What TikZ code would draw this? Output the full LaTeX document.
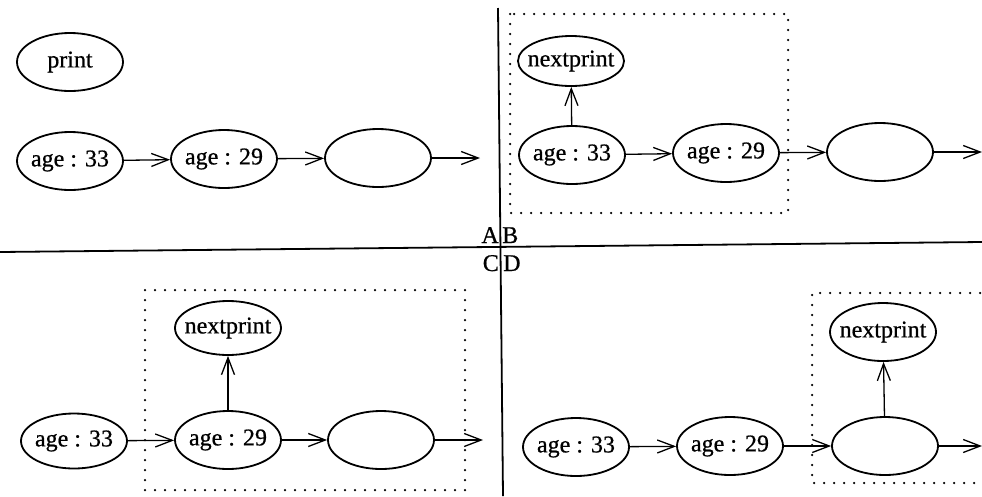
\documentclass[tikz,border=0pt]{standalone}
\usepackage{fontspec}
\setmainfont{Liberation Serif}
\newfontfamily\diagfont[FakeBold=0.7]{Liberation Serif}
\usetikzlibrary{shapes.geometric,arrows.meta}
\begin{document}
\begin{tikzpicture}[x=1pt,y=-1pt,
  obj/.style={ellipse,draw,line width=1.8pt,minimum width=106pt,minimum height=58pt,inner xsep=-20pt,inner ysep=0pt,font=\diagfont\fontsize{24}{28}\selectfont},
  link/.style={line width=1.3pt,-{Straight Barb[length=17pt,width=13pt,line width=1.3pt]}},
  grp/.style={line width=2.5pt,line cap=round,dash pattern=on 0pt off 10pt},
  divider/.style={line width=1.8pt},
  lbl/.style={inner sep=0pt,font=\diagfont\fontsize{24}{28}\selectfont}]
\useasboundingbox (0,0) rectangle (982,496);
\fill[white] (0,0) rectangle (982,496);
% dividers
\coordinate (hl) at (0,252); \coordinate (hr) at (982,242);
\coordinate (vt) at (498,8); \coordinate (vb) at (503,496);
\draw[divider] (hl) -- (hr);
\draw[divider] (vt) -- (vb);
\node[lbl,anchor=base east] (lA) at (499,243) {A};
\node[lbl,anchor=base west] (lB) at (502,243) {B};
\node[lbl,anchor=base east] (lC) at (499,271) {C};
\node[lbl,anchor=base west] (lD) at (503,271) {D};
% Panel A
\node[obj] (pA) at (70,62) {print};
\node[obj] (a33A) at (70,161) {age : 33};
\node[obj] (a29A) at (224,159) {age : 29};
\node[obj] (eA) at (378,158) {};
\coordinate (endA) at (480,158);
\draw[link] (a33A) -- (a29A);
\draw[link] (a29A) -- (eA);
\draw[link] (eA) -- (endA);
% Panel B
\draw[grp] (510,14) rectangle (788,213);
\node[obj,minimum height=50pt] (npB) at (571,61) {nextprint};
\node[obj] (a33B) at (572,155) {age : 33};
\node[obj] (a29B) at (726,153) {age : 29};
\node[obj] (eB) at (880,152) {};
\coordinate (endB) at (982,152);
\draw[link] (a33B) -- (npB);
\draw[link] (a33B) -- (a29B);
\draw[link] (a29B) -- (eB);
\draw[link] (eB) -- (endB);
% Panel C
\draw[grp] (145,290) rectangle (465,490);
\node[obj,minimum height=54pt] (npC) at (228,328) {nextprint};
\node[obj,minimum height=55pt] (a33C) at (74,441) {age : 33};
\node[obj] (a29C) at (228,440) {age : 29};
\node[obj] (eC) at (381,440) {};
\coordinate (endC) at (483,440);
\draw[link] (a29C) -- (npC);
\draw[link] (a33C) -- (a29C);
\draw[link] (a29C) -- (eC);
\draw[link] (eC) -- (endC);
% Panel D
\draw[grp] (990,293) -- (812,293) -- (812,483) -- (990,483);
\node[obj] (npD) at (883,332) {nextprint};
\node[obj] (a33D) at (576,447) {age : 33};
\node[obj] (a29D) at (730,446) {age : 29};
\node[obj] (eD) at (885,446) {};
\coordinate (endD) at (982,446);
\draw[link] (eD) -- (npD);
\draw[link] (a33D) -- (a29D);
\draw[link] (a29D) -- (eD);
\draw[link] (eD) -- (endD);
\end{tikzpicture}
\end{document}
